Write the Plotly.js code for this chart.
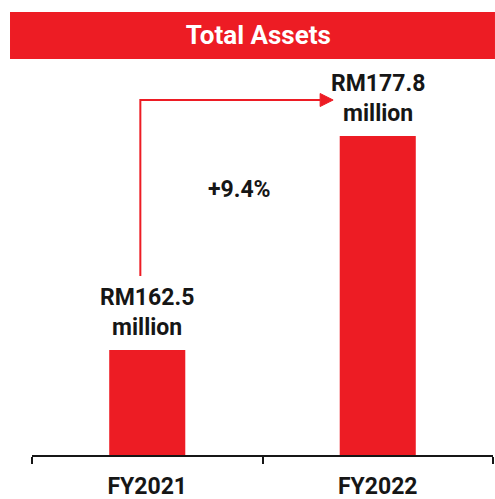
<!DOCTYPE html>
<html><head><meta charset="utf-8">
<script src="https://cdn.plot.ly/plotly-3.0.1.min.js"></script>
<style>html,body{margin:0;padding:0;background:#fff}#chart{width:495px;height:499px}</style>
</head><body><div id="chart"></div>
<script>
var categories = ["FY2021", "FY2022"];
var values = [162.5, 177.8];
var valueLabels = ["RM162.5<br>million", "RM177.8<br>million"];
var chartTitle = "Total Assets";

var RED = "#ED1C24";
var INK = "#161616";
var FONT = "Roboto, 'Liberation Sans', Arial, sans-serif";
var yMin = 155, yMax = 183.24;

var growth = ((values[1] - values[0]) / values[0] * 100).toFixed(1);

var annotations = values.map(function (v, i) {
  return {
    x: categories[i], y: v, xref: "x", yref: "y",
    text: valueLabels[i], showarrow: false,
    yanchor: "bottom", yshift: 7,
    font: {family: FONT, size: 23, color: INK, weight: 700}
  };
});
annotations.push({
  x: 0.40, y: 173.95, xref: "x", yref: "y",
  text: "+" + growth + "%", showarrow: false,
  xanchor: "center", yanchor: "middle",
  font: {family: FONT, size: 23, color: INK, weight: 700}
});

var arrowX0 = -0.03, arrowYLow = 167.8, arrowYHigh = 180.38, arrowX1 = 0.75;
var shapes = [
  {type: "rect", xref: "paper", yref: "paper", x0: -0.0477, x1: 1.0043, y0: 1.0025, y1: 1.1215,
   fillcolor: RED, line: {width: 0}, layer: "below"},
  {type: "path", xref: "x", yref: "y",
   path: "M" + arrowX0 + "," + arrowYLow + " L" + arrowX0 + "," + arrowYHigh + " L" + arrowX1 + "," + arrowYHigh,
   line: {color: RED, width: 2}},
  {type: "path", xref: "x", yref: "y", xsizemode: "pixel", ysizemode: "pixel",
   xanchor: arrowX1, yanchor: arrowYHigh,
   path: "M0,6.5 L13,0 L0,-6.5 Z", fillcolor: RED, line: {color: RED, width: 1}}
];

var data = [{
  type: "bar", x: categories, y: values, width: 0.33,
  marker: {color: RED, line: {width: 0}},
  hoverinfo: "none", cliponaxis: true
}];

var layout = {
  width: 495, height: 499,
  margin: {l: 32, r: 2, t: 60, b: 44, pad: 0},
  paper_bgcolor: "#fff", plot_bgcolor: "#fff",
  showlegend: false,
  title: {text: chartTitle, x: 0.522, xanchor: "center", y: 0.931, yanchor: "middle",
          xref: "container", yref: "container",
          font: {family: FONT, size: 26, color: "#fff", weight: 700}},
  xaxis: {type: "category", range: [-0.5, 1.5], tickson: "boundaries",
          showline: true, linecolor: INK, linewidth: 2,
          ticks: "outside", ticklen: 7, tickwidth: 2, tickcolor: INK,
          ticklabelstandoff: 9,
          showgrid: false, zeroline: false, fixedrange: true,
          tickfont: {family: FONT, size: 23, color: INK, weight: 700}},
  yaxis: {range: [yMin, yMax], visible: false, showgrid: false, zeroline: false, fixedrange: true},
  annotations: annotations,
  shapes: shapes
};
Plotly.newPlot("chart", data, layout, {staticPlot: true, displayModeBar: false});
</script></body></html>
